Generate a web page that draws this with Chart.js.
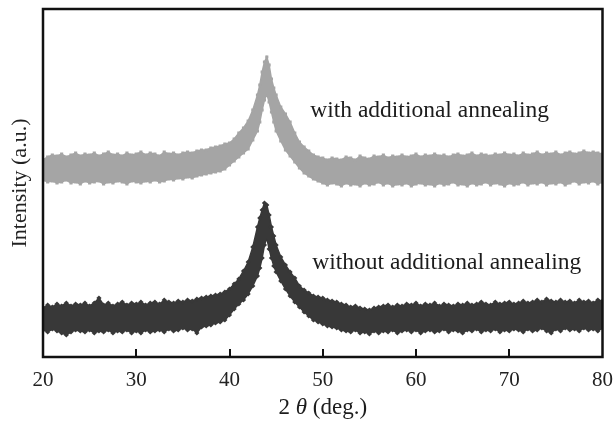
<!DOCTYPE html>
<html><head><meta charset="utf-8">
<script src="https://cdn.jsdelivr.net/npm/chart.js@4/dist/chart.umd.min.js"></script>
<style>html,body{margin:0;padding:0;background:#fff;}#wrap{width:616px;height:424px;}</style>
</head><body><div id="wrap"><canvas id="c" width="616" height="424"></canvas></div>
<script>
// 2θ positions (deg.)
const twoTheta = [20,20.5,21,21.5,22,22.5,23,23.5,24,24.5,25,25.5,26,26.5,27,27.5,28,28.5,29,29.5,30,30.5,31,31.5,32,32.5,33,33.5,34,34.5,35,35.5,36,36.5,37,37.5,38,38.5,39,39.5,40,40.5,41,41.5,42,42.5,43,43.25,43.5,43.75,44,44.25,44.5,44.75,45,45.5,46,46.5,47,47.5,48,48.5,49,49.5,50,50.5,51,51.5,52,52.5,53,53.5,54,54.5,55,55.5,56,56.5,57,57.5,58,58.5,59,59.5,60,60.5,61,61.5,62,62.5,63,63.5,64,64.5,65,65.5,66,66.5,67,67.5,68,68.5,69,69.5,70,70.5,71,71.5,72,72.5,73,73.5,74,74.5,75,75.5,76,76.5,77,77.5,78,78.5,79,79.5,80];
// with additional annealing: upper / lower edge of the scattered intensity band (a.u.)
const annealedUpper = [197,200,202,201,203,200,202,204,201,203,202,204,201,203,205,202,203,201,204,202,203,205,202,204,203,201,205,203,204,202,204,205,204,206,207,207,209,210,211,213,214,218,224,229,236,247,262,
 272,285,295,300,292,278,269,262,
 250,243,235,224,215,210,206,202,200,199,197,199,198,197,200,199,197,201,199,198,201,200,202,199,201,200,202,200,201,203,200,202,201,203,201,202,200,202,203,201,202,204,201,203,202,201,203,202,204,202,203,201,204,202,203,205,202,204,203,205,202,204,205,203,204,206,204,205,204,203];
const annealedLower = [177,175,176,174,175,177,174,175,173,176,174,175,176,173,175,174,176,175,173,176,175,174,176,175,177,175,176,178,177,179,178,180,179,181,182,183,184,185,186,188,192,196,200,204,208,217,226,
 235,247,257,263,255,245,235,226,
 216,207,201,195,189,184,181,178,176,174,172,174,173,171,174,172,173,171,174,172,173,175,172,174,171,173,172,174,171,173,174,172,173,171,174,172,173,175,172,173,171,174,172,173,175,172,174,173,171,174,172,173,175,172,174,173,175,172,174,173,175,172,174,176,173,175,174,176,173,175];
// without additional annealing
const plainUpper = [49,52,50,53,51,54,51,53,52,54,51,54,59,52,54,51,53,55,52,54,53,55,52,54,55,53,57,55,54,56,55,57,56,58,59,60,61,62,63,65,68,73,78,86,95,110,130,
 139,147,154,152,142,130,121,112,
 100,92,85,79,71,67,64,61,60,59,57,56,55,53,52,50,51,49,48,47,49,50,51,52,50,52,51,53,52,54,51,53,52,54,51,53,52,51,53,52,54,52,53,55,53,52,55,53,54,55,53,54,56,54,55,57,55,58,56,55,57,55,56,54,57,55,56,54,57,56];
const plainLower = [27,25,28,26,24,22,25,27,26,25,27,24,26,25,27,24,26,25,27,24,26,24,27,25,26,27,25,28,26,27,29,27,28,24,30,31,32,34,35,37,42,48,53,57,63,71,81,
 89,99,112,119,108,99,91,85,
 76,68,61,55,50,45,41,37,35,33,31,30,29,27,26,25,27,24,25,23,26,24,26,25,27,24,26,27,25,27,24,26,27,25,26,28,25,27,26,24,27,26,28,25,27,26,28,25,27,26,28,27,25,28,26,27,29,26,24,28,26,29,27,28,26,29,27,28,26,29];
const xTicks = [20,30,40,50,60,70,80];
const seriesLabels = ['with additional annealing','without additional annealing'];
const yTitle = 'Intensity (a.u.)';

const SERIF = '"Liberation Serif","Times New Roman",serif';
const GRAY = '#a5a5a5', DARK = '#383838';
const pts = arr => twoTheta.map((t,i)=>({x:t,y:arr[i]}));
function band(arr, color, style, r, fill){
  return {data:pts(arr), borderColor:color, backgroundColor:color, borderWidth:1.5, fill:fill,
    pointStyle:style, pointRadius:r, pointBackgroundColor:color, pointBorderColor:color, pointBorderWidth:0, tension:0};
}
const decor = {
  id:'decor',
  afterDatasetsDraw(chart){
    const {ctx, chartArea:a, scales:{x,y}} = chart;
    ctx.save();
    ctx.strokeStyle='#111'; ctx.lineWidth=2.5;
    ctx.strokeRect(a.left, a.top, a.right-a.left, a.bottom-a.top);
    ctx.lineWidth=2;
    x.ticks.forEach(t=>{
      if(t.value>x.min && t.value<x.max){
        const px = Math.round(x.getPixelForValue(t.value));
        ctx.beginPath(); ctx.moveTo(px,a.bottom); ctx.lineTo(px,a.bottom-8); ctx.stroke();
      }
    });
    ctx.fillStyle='#1c1c1c'; ctx.font='23.5px '+SERIF; ctx.textBaseline='alphabetic'; ctx.textAlign='left';
    ctx.fillText(seriesLabels[0], x.getPixelForValue(48.66), y.getPixelForValue(240));
    ctx.fillText(seriesLabels[1], x.getPixelForValue(48.88), y.getPixelForValue(88));
    // x-axis title: 2θ(deg.)
    const parts = [['2 ','23px '+SERIF],['θ','italic 23px '+SERIF],[' (deg.)','23px '+SERIF]];
    let w=0; parts.forEach(p=>{ctx.font=p[1]; w+=ctx.measureText(p[0]).width;});
    let cx = (a.left+a.right)/2 - w/2; ctx.textBaseline='middle';
    parts.forEach(p=>{ctx.font=p[1]; ctx.fillText(p[0], cx, 408); cx+=ctx.measureText(p[0]).width;});
    ctx.restore();
  }
};
new Chart(document.getElementById('c'), {
  type:'line',
  data:{datasets:[
    band(annealedUpper, GRAY, 'rect', 2.2, '+1'),
    band(annealedLower, GRAY, 'rect', 2.2, false),
    band(plainUpper, DARK, 'rectRot', 2.6, '+1'),
    band(plainLower, DARK, 'rectRot', 2.6, false)
  ]},
  options:{
    responsive:false, animation:false,
    layout:{padding:{top:9,right:12,left:0,bottom:0}},
    plugins:{legend:{display:false}, tooltip:{enabled:false}},
    scales:{
      x:{type:'linear', min:20, max:80,
        afterBuildTicks:s=>{s.ticks = xTicks.map(v=>({value:v}));},
        ticks:{font:{family:SERIF,size:21}, color:'#222', padding:3, maxRotation:0},
        grid:{display:false}, border:{display:false},
        afterFit:s=>{s.height=67;}},
      y:{min:0, max:348,
        ticks:{display:false}, grid:{display:false}, border:{display:false},
        title:{display:true, text:yTitle, font:{family:SERIF,size:22}, color:'#222', padding:{top:7,bottom:0}},
        afterFit:s=>{s.width=43;}}
    }
  },
  plugins:[decor]
});
</script></body></html>
